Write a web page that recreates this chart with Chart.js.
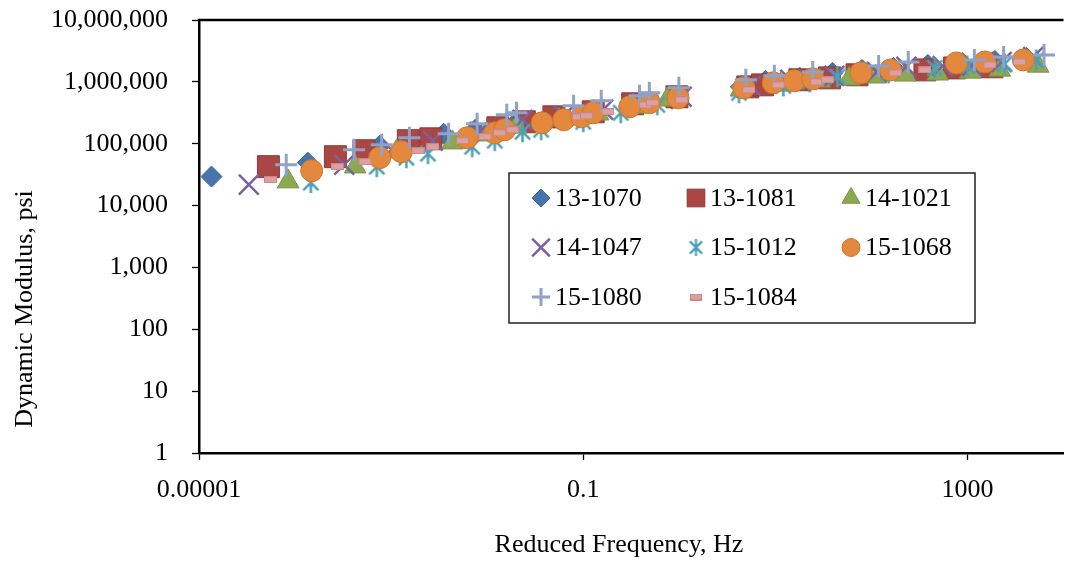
<!DOCTYPE html>
<html>
<head>
<meta charset="utf-8">
<script src="https://cdn.jsdelivr.net/npm/chart.js@4.4.1/dist/chart.umd.min.js"></script>
<style>
  html, body { margin: 0; padding: 0; background: #fff; overflow: hidden; }
  #wrap { width: 1080px; height: 564px; }
</style>
</head>
<body>
<div id="wrap"><canvas id="chart"></canvas></div>
<script>
const seriesNames = ['13-1070', '13-1081', '14-1021', '14-1047', '15-1012', '15-1068', '15-1080', '15-1084'];

// reduced frequency (Hz) and dynamic modulus (psi)
const freq1070 = [1.35e-5, 1.36e-4, 7.60e-4, 3.52e-3, 7.50e-3, 0.0193, 0.0495, 0.127, 0.327, 0.840, 4.38, 7.90, 18.0, 39.3, 79.8, 170, 387, 885, 1930, 4100];
const mod1070  = [29400, 49400, 92900, 145000, 168000, 210000, 263000, 328000, 410000, 532000, 830000, 1040000, 1160000, 1400000, 1560000, 1680000, 1880000, 2020000, 2180000, 2440000];

const freq1081 = [5.28e-5, 2.63e-4, 5.21e-4, 1.51e-3, 2.59e-3, 0.0129, 0.0244, 0.0495, 0.127, 0.327, 0.945, 5.16, 7.36, 18.0, 36.6, 70.8, 361, 733, 1800];
const mod1081  = [42600, 61700, 77100, 112000, 120000, 181000, 226000, 272000, 328000, 442000, 573000, 830000, 895000, 1080000, 1160000, 1300000, 1560000, 1680000, 1750000];

const freq1021 = [8.47e-5, 4.22e-4, 1.14e-3, 4.36e-3, 9.49e-3, 0.0202, 0.0557, 0.143, 0.368, 0.746, 4.38, 11.3, 28.9, 58.7, 111, 225, 491, 1070, 2170, 5450];
const mod1021  = [24400, 42600, 74300, 104000, 140000, 188000, 244000, 305000, 395000, 512000, 743000, 895000, 1040000, 1120000, 1210000, 1300000, 1350000, 1450000, 1560000, 1810000];

const freq1047 = [3.30e-5, 3.25e-4, 1.01e-3, 2.72e-3, 8.40e-3, 0.0233, 0.0627, 0.161, 0.414, 1.06, 5.54, 14.3, 41.2, 114, 231, 552, 1120, 2270, 4830];
const mod1047  = [21800, 45800, 80000, 112000, 156000, 244000, 283000, 353000, 459000, 573000, 862000, 1080000, 1250000, 1450000, 1750000, 1810000, 1810000, 2100000, 2530000];

const freq1012 = [1.46e-4, 7.10e-4, 1.44e-3, 2.42e-3, 6.98e-3, 0.0120, 0.0233, 0.0364, 0.100, 0.246, 0.590, 4.18, 12.1, 22.8, 44.2, 151, 457, 995, 2440, 5190];
const mod1012  = [23500, 42600, 59400, 69000, 89500, 112000, 156000, 168000, 226000, 316000, 426000, 665000, 862000, 1000000, 1210000, 1400000, 1680000, 1810000, 1950000, 2260000];

const freq1068 = [1.49e-4, 7.60e-4, 1.28e-3, 6.20e-3, 0.0120, 0.0152, 0.0373, 0.0627, 0.0960, 0.127, 0.305, 0.489, 0.970, 4.70, 9.50, 15.7, 24.5, 77.8, 158, 767, 1520, 3820];
const mod1068  = [36700, 59400, 74300, 125000, 150000, 168000, 218000, 244000, 272000, 316000, 395000, 459000, 552000, 800000, 964000, 1040000, 1120000, 1400000, 1560000, 2020000, 2100000, 2260000];

const freq1080 = [8.09e-5, 4.12e-4, 7.98e-4, 1.55e-3, 3.97e-3, 7.86e-3, 0.0160, 0.0202, 0.0794, 0.154, 0.386, 0.488, 0.990, 4.93, 9.77, 24.5, 119, 242, 1180, 2380, 6270];
const mod1080  = [45800, 80000, 96400, 125000, 145000, 210000, 294000, 316000, 410000, 494000, 594000, 665000, 800000, 1080000, 1250000, 1450000, 1810000, 2100000, 2260000, 2530000, 2720000];

const freq1084 = [5.55e-5, 2.76e-4, 5.34e-4, 1.91e-3, 2.72e-3, 5.52e-3, 9.49e-3, 0.0135, 0.0184, 0.0893, 0.108, 0.181, 0.444, 0.524, 1.06, 5.29, 10.7, 26.9, 34.9, 178, 361, 1710, 3480];
const mod1084  = [26300, 42600, 51200, 77100, 89500, 112000, 130000, 150000, 168000, 272000, 283000, 328000, 426000, 459000, 512000, 743000, 895000, 1000000, 1080000, 1400000, 1560000, 1880000, 2100000];

const seriesFreq = [freq1070, freq1081, freq1021, freq1047, freq1012, freq1068, freq1080, freq1084];
const seriesMod  = [mod1070, mod1081, mod1021, mod1047, mod1012, mod1068, mod1080, mod1084];

const xTicks = [1e-5, 0.1, 1000];
const xTickLabels = ['0.00001', '0.1', '1000'];
const yTicks = [1, 10, 100, 1e3, 1e4, 1e5, 1e6, 1e7];

const FONT = '"Liberation Serif", "Times New Roman", serif';

function asterisk(size, color, lw) {
  const c = document.createElement('canvas');
  c.width = c.height = size;
  const g = c.getContext('2d');
  const h = size / 2, r = h - 1, d = r * 0.72;
  g.strokeStyle = color; g.lineWidth = lw;
  g.beginPath();
  g.moveTo(h, h - r); g.lineTo(h, h + r);
  g.moveTo(h - d, h - d); g.lineTo(h + d, h + d);
  g.moveTo(h + d, h - d); g.lineTo(h - d, h + d);
  g.stroke();
  return c;
}

function dash(w, hgt, fill, edge) {
  const c = document.createElement('canvas');
  c.width = w; c.height = hgt;
  const g = c.getContext('2d');
  g.fillStyle = fill; g.strokeStyle = edge; g.lineWidth = 1;
  g.fillRect(0.5, 0.5, w - 1, hgt - 1);
  g.strokeRect(0.5, 0.5, w - 1, hgt - 1);
  return c;
}

const markers = [
  { style: 'rectRot',  r: 10.5, lr: 9,    bg: '#4674AB', bd: '#3C649A', bw: 1 },
  { style: 'rect',     r: 15.5, lr: 12.5, bg: '#AA4643', bd: '#8E3835', bw: 1 },
  { style: 'triangle', r: 12.5, lr: 10.5, bg: '#8BA852', bd: '#7A9446', bw: 1 },
  { style: 'crossRot', r: 14,   lr: 12.5, bg: '#7B61A0', bd: '#7B61A0', bw: 2.5 },
  { style: asterisk(23, '#4BA0B8', 2.5), legend: asterisk(19, '#4BA0B8', 2.2), r: 11, lr: 9, bg: '#4BA0B8', bd: '#4BA0B8', bw: 1 },
  { style: 'circle',   r: 11,   lr: 9,    bg: '#E3883C', bd: '#C97832', bw: 1 },
  { style: 'cross',    r: 11,   lr: 9,    bg: '#8FA2C8', bd: '#8FA2C8', bw: 3 },
  { style: dash(13, 7, '#DDA0A1', '#C98687'), legend: dash(12, 7, '#DDA0A1', '#C98687'), r: 7, lr: 6, bg: '#DDA0A1', bd: '#C98687', bw: 1 }
];

const datasets = seriesNames.map((name, i) => ({
  label: name,
  data: seriesFreq[i].map((f, k) => ({ x: f, y: seriesMod[i][k] })),
  pointStyle: markers[i].style,
  pointRadius: markers[i].r,
  backgroundColor: markers[i].bg,
  borderColor: markers[i].bd,
  borderWidth: markers[i].bw,
  order: seriesNames.length - i
}));

const frame = {
  id: 'frame',
  afterDraw(chart) {
    const { ctx, chartArea: a } = chart;
    ctx.save();
    ctx.strokeStyle = '#000';
    ctx.lineWidth = 2.5;
    ctx.beginPath();
    ctx.moveTo(a.left - 1.25, a.top);
    ctx.lineTo(a.right, a.top);
    ctx.stroke();

    ctx.fillStyle = '#000';
    ctx.font = '26px ' + FONT;
    ctx.textAlign = 'center';
    ctx.textBaseline = 'middle';
    ctx.fillText('Reduced Frequency, Hz', 619, 545);
    ctx.save();
    ctx.translate(25, 309);
    ctx.rotate(-Math.PI / 2);
    ctx.fillText('Dynamic Modulus, psi', 0, 0);
    ctx.restore();

    // legend box
    ctx.fillStyle = '#fff';
    ctx.fillRect(509, 173, 466, 150);
    ctx.strokeStyle = '#222';
    ctx.lineWidth = 1.5;
    ctx.strokeRect(509, 173, 466, 150);
    ctx.textAlign = 'left';
    seriesNames.forEach((name, i) => {
      const m = markers[i];
      const mx = 541 + (i % 3) * 155;
      const my = 198 + Math.floor(i / 3) * 49.5;
      ctx.fillStyle = m.bg;
      ctx.strokeStyle = m.bd;
      ctx.lineWidth = m.bw;
      Chart.helpers.drawPoint(ctx, { pointStyle: m.legend || m.style, radius: m.lr, borderWidth: m.bw, rotation: 0 }, mx, my);
      ctx.fillStyle = '#000';
      ctx.fillText(name, mx + 14, my + 1);
    });
    ctx.restore();
  }
};

new Chart(document.getElementById('chart'), {
  type: 'scatter',
  data: { datasets },
  plugins: [frame],
  options: {
    responsive: true,
    maintainAspectRatio: false,
    animation: false,
    events: [],
    layout: { padding: { top: 20, right: 2, left: 0, bottom: 0 } },
    plugins: { legend: { display: false }, tooltip: { enabled: false } },
    scales: {
      x: {
        type: 'logarithmic',
        min: 1e-5,
        max: 1e4,
        afterFit: s => { s.height = 111; s.paddingLeft = 0; s.paddingRight = 0; },
        afterBuildTicks: s => { s.ticks = xTicks.map(v => ({ value: v })); },
        ticks: {
          autoSkip: false, maxRotation: 0, color: '#000', padding: 15,
          font: { family: FONT, size: 26 },
          callback: (v, i) => xTickLabels[i]
        },
        grid: { drawOnChartArea: false, drawTicks: true, tickLength: 7, tickColor: '#000', tickWidth: 1.3 },
        border: { display: true, color: '#000', width: 2.5 }
      },
      y: {
        type: 'logarithmic',
        min: 1,
        max: 1e7,
        afterFit: s => { s.width = 199; s.paddingTop = 0; s.paddingBottom = 0; },
        afterBuildTicks: s => { s.ticks = yTicks.map(v => ({ value: v })); },
        ticks: {
          autoSkip: false, color: '#000', padding: 24,
          font: { family: FONT, size: 26 },
          callback: v => Number(v).toLocaleString('en-US')
        },
        grid: { drawOnChartArea: false, drawTicks: true, tickLength: 7, tickColor: '#000', tickWidth: 1.3 },
        border: { display: true, color: '#000', width: 2.5 }
      }
    }
  }
});
</script>
</body>
</html>
